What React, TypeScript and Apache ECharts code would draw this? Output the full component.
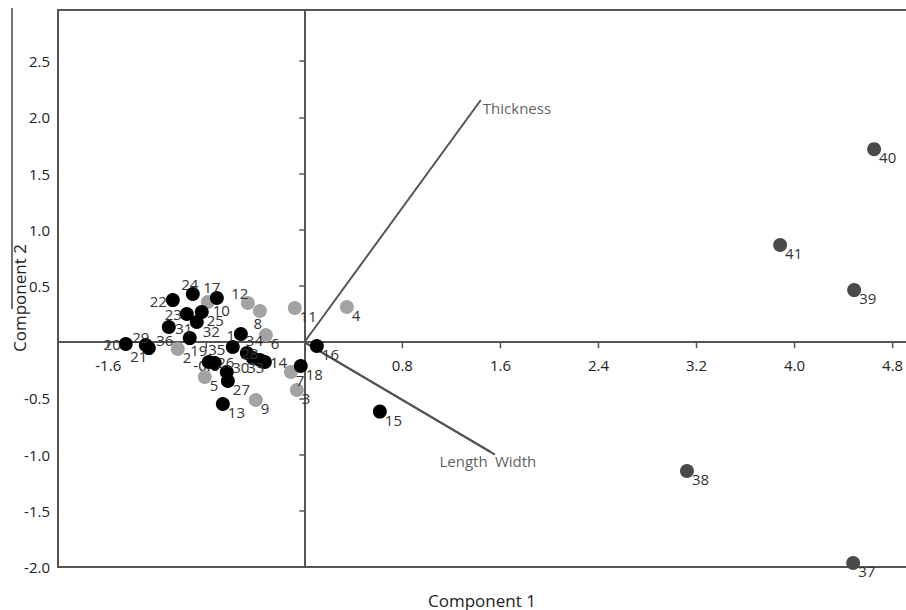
import React, { useEffect, useRef } from "react";
import * as echarts from "echarts";

// ---- data ----
const lightIds = [2, 3, 4, 5, 6, 7, 8, 9, 10, 11, 12];
const lightC1 = [-1.033, -0.061, 0.347, -0.812, -0.314, -0.11, -0.363, -0.396, -0.788, -0.078, -0.461];
const lightC2 = [-0.06, -0.425, 0.313, -0.31, 0.064, -0.265, 0.278, -0.514, 0.358, 0.304, 0.349];

const blackIds = [1, 13, 14, 15, 16, 17, 18, 19, 20, 21, 22, 23, 24, 25, 26, 27, 28, 29, 30, 31, 32, 33, 34, 35, 36];
const blackC1 = [-0.584, -0.665, -0.322, 0.616, 0.102, -0.714, -0.029, -0.78, -1.457, -1.269, -1.073, -0.959, -0.91, -0.837, -0.633, -0.624, -0.469, -1.294, -0.42, -0.935, -0.878, -0.363, -0.518, -0.731, -1.106];
const blackC2 = [-0.043, -0.55, -0.176, -0.617, -0.034, 0.393, -0.212, -0.176, -0.016, -0.052, 0.375, 0.251, 0.429, 0.269, -0.265, -0.345, -0.096, -0.025, -0.14, 0.037, 0.18, -0.158, 0.073, -0.185, 0.135];

const darkIds = [37, 38, 39, 40, 41];
const darkC1 = [4.478, 3.122, 4.486, 4.649, 3.882];
const darkC2 = [-1.964, -1.146, 0.464, 1.718, 0.865];

const vectorNames = ["Thickness", "Length", "Width"];
const vectorC1 = [1.44, 1.52, 1.555];
const vectorC2 = [2.155, -0.975, -1.0];

const xTicks = [-1.6, -0.8, 0.8, 1.6, 2.4, 3.2, 4.0, 4.8];
const yTicks = [-2.0, -1.5, -1.0, -0.5, 0.5, 1.0, 1.5, 2.0, 2.5];

// ---- label placement (style, kept apart from data) ----
type Place = [string, number, number];
const defaultPlace: Place = ["left", 5, 8];
const labelPlace: Record<number, Place> = {
  1: ["center", -2, -12],
  8: ["center", -2, 12],
  12: ["center", -8, -10],
  14: ["left", 5, 0],
  17: ["center", -5, -11],
  19: ["center", -10, -12],
  20: ["right", -5, 0],
  21: ["center", -10, 8],
  22: ["right", -6, 1],
  23: ["right", -5, 0],
  24: ["center", -3, -10],
  26: ["center", -1, -10],
  28: ["center", 3, 0],
  29: ["center", -5, -8],
  30: ["center", -12, 9],
  31: ["center", -6, -10],
  32: ["left", 6, 9],
  33: ["center", -4, 7],
  34: ["left", 5, 6],
  35: ["center", 2, -14],
  36: ["center", -4, 13],
};
const vectorPlace: Place[] = [
  ["left", 2, 8],
  ["right", -3, 9],
  ["left", 0, 6],
];

const FONT = "'Open Sans', 'DejaVu Sans', sans-serif";

const baseLabel = {
  show: true,
  position: "inside",
  verticalAlign: "middle",
  color: "#333",
  fontFamily: FONT,
  fontSize: 15,
  textBorderWidth: 0,
  textBorderColor: "transparent",
  textShadowBlur: 0,
};

function buildPoints(ids: number[], c1: number[], c2: number[]) {
  return ids.map((id, i) => {
    const p = labelPlace[id] || defaultPlace;
    return {
      value: [c1[i], c2[i]],
      name: String(id),
      label: {
        ...baseLabel,
        formatter: String(id),
        align: p[0],
        offset: [p[1], p[2]],
      },
    };
  });
}

export default function App() {
  const ref = useRef<HTMLDivElement>(null);
  useEffect(() => {
    if (!ref.current) return;
    const chart = echarts.init(ref.current, undefined, { renderer: "svg" });

    const vectorLines = vectorNames.map((n, i) => ({
      type: "line",
      name: n,
      data: [
        [0, 0],
        [vectorC1[i], vectorC2[i]],
      ],
      showSymbol: false,
      symbol: "none",
      silent: true,
      z: 1,
      lineStyle: { color: "#555", width: 2 },
    }));

    const vectorLabels = {
      type: "scatter",
      symbolSize: 0,
      silent: true,
      z: 3,
      data: vectorNames.map((n, i) => ({
        value: [vectorC1[i], vectorC2[i]],
        label: {
          ...baseLabel,
          formatter: n,
          align: vectorPlace[i][0],
          offset: [vectorPlace[i][1], vectorPlace[i][2]],
        },
      })),
    };

    // x tick marks and labels sitting on the zero line
    const xTickSeries = {
      type: "scatter",
      silent: true,
      z: 1,
      symbol: "rect",
      symbolSize: [1.5, 6],
      symbolOffset: [0, 3],
      itemStyle: { color: "#555", opacity: 1 },
      data: xTicks.map((t) => ({
        value: [t, 0],
        label: {
          ...baseLabel,
          color: "#222",
          formatter: t.toFixed(1),
          align: "center",
          offset: [0, 20],
        },
      })),
    };

    const option: any = {
      animation: false,
      backgroundColor: "#fff",
      grid: {
        left: 58,
        top: 10,
        right: -5,
        bottom: 43,
        outerBoundsMode: "none",
        containLabel: false,
        show: true,
        borderColor: "#555",
        borderWidth: 2,
        backgroundColor: "transparent",
      },
      xAxis: {
        type: "value",
        min: -2.01,
        max: 4.95,
        axisLine: { onZero: true, lineStyle: { color: "#555", width: 2 } },
        axisTick: { show: false },
        axisLabel: { show: false },
        splitLine: { show: false },
      },
      yAxis: {
        type: "value",
        min: -2.0,
        max: 2.956,
        axisLine: { onZero: true, lineStyle: { color: "#555", width: 2 } },
        axisTick: { show: true, customValues: yTicks, length: 5, lineStyle: { color: "#555", width: 1.5 } },
        axisLabel: {
          customValues: yTicks,
          formatter: (v: number) => v.toFixed(1),
          margin: 8,
          color: "#222",
          fontFamily: FONT,
          fontSize: 15,
        },
        splitLine: { show: false },
      },
      graphic: [
        {
          type: "text",
          x: 482,
          y: 600,
          style: {
            text: "Component 1",
            fill: "#222",
            font: `17px ${FONT}`,
            align: "center",
            verticalAlign: "middle",
          },
        },
        {
          type: "text",
          x: 19,
          y: 298,
          rotation: Math.PI / 2,
          style: {
            text: "Component 2",
            fill: "#222",
            font: `17px ${FONT}`,
            align: "center",
            verticalAlign: "middle",
          },
        },
        {
          type: "line",
          shape: { x1: 12, y1: 8, x2: 12, y2: 309 },
          style: { stroke: "#444", lineWidth: 1.5 },
        },
      ],
      series: [
        ...vectorLines,
        xTickSeries,
        {
          type: "scatter",
          name: "light",
          symbolSize: 14,
          z: 2,
          itemStyle: { color: "#a3a3a3", opacity: 1 },
          data: buildPoints(lightIds, lightC1, lightC2),
        },
        {
          type: "scatter",
          name: "black",
          symbolSize: 14,
          z: 2,
          itemStyle: { color: "#000", opacity: 1 },
          data: buildPoints(blackIds, blackC1, blackC2),
        },
        {
          type: "scatter",
          name: "dark",
          symbolSize: 14,
          z: 2,
          itemStyle: { color: "#4a4a4a", opacity: 1 },
          data: buildPoints(darkIds, darkC1, darkC2),
        },
        vectorLabels,
      ],
    };
    chart.setOption(option);
    return () => chart.dispose();
  }, []);

  return (
    <div
      ref={ref}
      style={{ position: "fixed", left: 0, top: 0, width: 906, height: 610, background: "#fff" }}
    />
  );
}
